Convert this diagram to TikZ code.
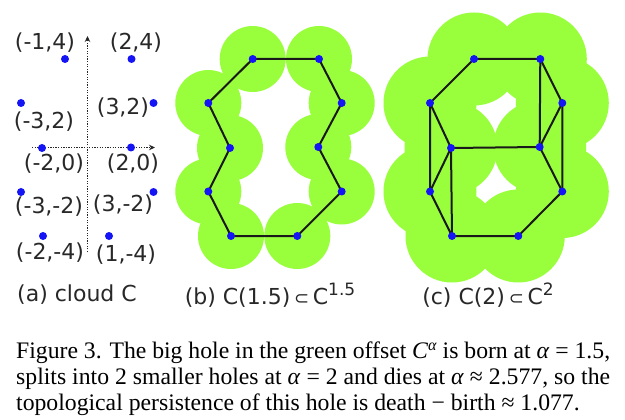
\documentclass[tikz,border=0pt]{standalone}
\usepackage{fontspec}
\setmainfont{Liberation Serif}
\newfontfamily\lblfont{DejaVu Sans}
\usetikzlibrary{arrows.meta}
\definecolor{offsetgreen}{RGB}{153,255,61}
\definecolor{dotblue}{RGB}{20,20,245}
\definecolor{lblgray}{RGB}{40,40,40}
\tikzset{
  x=1pt,y=-1pt,
  pt/.style={circle,fill=dotblue,draw=none,inner sep=0pt,minimum size=8pt},
  edge/.style={draw=black!90,line width=2pt},
  lbl/.style={font=\lblfont\fontsize{22}{26}\selectfont,text=lblgray,inner sep=0pt},
  capt/.style={font=\fontsize{23.7}{26}\selectfont,anchor=base west,inner sep=0pt,text=black},
  axis/.style={draw=black!85,line width=1pt,dash pattern=on 1.3pt off 1.3pt,-{Stealth[length=6pt,width=5.5pt]}}
}
\newcommand{\fillr}[3]{\fill[offsetgreen] (#1,#2) circle[radius=#3];}
\begin{document}
\begin{tikzpicture}
\useasboundingbox (0,0) rectangle (625,420);
\fill[white] (0,0) rectangle (625,420);
% panel (a)
\coordinate (vs) at (87.5,252); \coordinate (ve) at (87.5,36);
\coordinate (hs) at (32,147.5); \coordinate (he) at (155,147.5);
\draw[axis] (vs) -- (ve);
\draw[axis] (hs) -- (he);
\foreach \n/\x/\y in {a1/65/59,a2/131.5/59,a3/21/103,a4/153.5/103,a5/42/148,a6/131/147.5,a7/21/192,a8/153.5/192,a9/43/236,a10/109/236}
  \node[pt] (\n) at (\x,\y) {};
\node[lbl] (la1) at (45,43) {(-1,4)};
\node[lbl] (la2) at (136,43) {(2,4)};
\node[lbl] (la3) at (123,108) {(3,2)};
\node[lbl] (la4) at (44,122) {(-3,2)};
\node[lbl] (la5) at (54,164) {(-2,0)};
\node[lbl] (la6) at (133,164) {(2,0)};
\node[lbl] (la7) at (49,207) {(-3,-2)};
\node[lbl] (la8) at (123,205) {(3,-2)};
\node[lbl] (la9) at (50,253) {(-2,-4)};
\node[lbl] (la10) at (126,255) {(1,-4)};
\node[lbl] (capa) at (77,295) {(a) cloud C};
% panel (b)
\foreach \x/\y in {252.7/59,319/59,341.7/103,318.3/147,341.7/191.5,297.3/236,231/236,208.3/191.5,230/148,208.3/103}
  \fillr{\x}{\y}{33}
\foreach \n/\x/\y in {b1/252.7/59,b2/319/59,b3/341.7/103,b4/318.3/147,b5/341.7/191.5,b6/297.3/236,b7/231/236,b8/208.3/191.5,b9/230/148,b10/208.3/103}
  \coordinate (\n) at (\x,\y);
\draw[edge] (b1)--(b2)--(b3)--(b4)--(b5)--(b6)--(b7)--(b8)--(b9)--(b10)--(b1);
\foreach \n in {b1,b2,b3,b4,b5,b6,b7,b8,b9,b10}
  \node[pt] at (\n) {};
\node[lbl] (capb) at (270,295) {(b) C(1.5)\,{\fontsize{18}{18}\selectfont ⊂}\,C\raisebox{9pt}{\fontsize{17}{18}\selectfont 1.5}};
% panel (c)
\foreach \x/\y in {474/59,540.3/59,562.3/103,539.7/147,562.3/191.5,518.3/236,452/236,430/191.5,451/148,430/103}
  \fillr{\x}{\y}{46.5}
\foreach \n/\x/\y in {c1/474/59,c2/540.3/59,c3/562.3/103,c4/539.7/147,c5/562.3/191.5,c6/518.3/236,c7/452/236,c8/430/191.5,c9/451/148,c10/430/103}
  \coordinate (\n) at (\x,\y);
\draw[edge] (c1)--(c2)--(c3)--(c4)--(c5)--(c6)--(c7)--(c8)--(c9)--(c10)--(c1);
\draw[edge] (c9)--(c4) (c10)--(c8) (c2)--(c4) (c3)--(c5) (c9)--(c7);
\foreach \n in {c1,c2,c3,c4,c5,c6,c7,c8,c9,c10}
  \node[pt] at (\n) {};
\node[lbl] (capc) at (488,295) {(c) C(2)\,{\fontsize{18}{18}\selectfont ⊂}\,C\raisebox{9pt}{\fontsize{17}{18}\selectfont 2}};
% caption
\node[capt] (l1) at (16,358) {\makebox[594pt][s]{Figure 3. The big hole in the green offset \textit{C}\raisebox{8pt}{\fontsize{16}{18}\selectfont\textit{α}} is born at \textit{α} = 1.5,}};
\node[capt] (l2) at (16,384) {\makebox[594pt][s]{splits into 2 smaller holes at \textit{α} = 2 and dies at \textit{α} ≈ 2.577, so the}};
\node[capt] (l3) at (16,410) {topological persistence of this hole is death − birth ≈ 1.077.};
\end{tikzpicture}
\end{document}
